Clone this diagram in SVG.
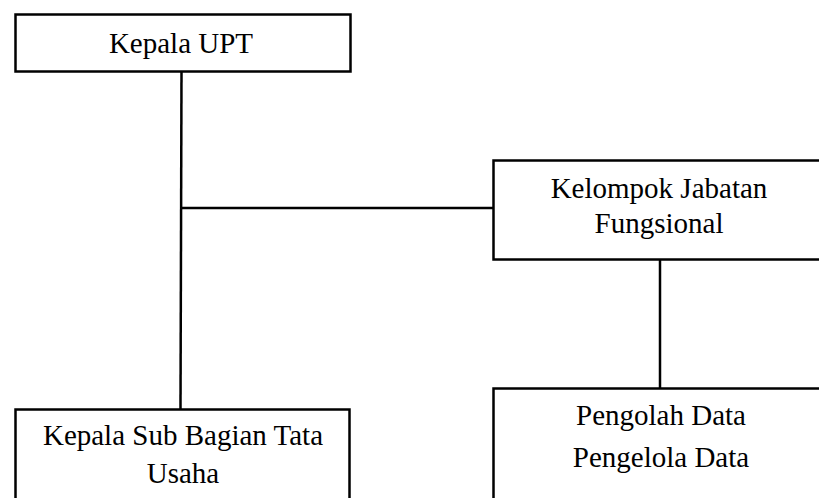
<svg xmlns="http://www.w3.org/2000/svg" width="819" height="498" viewBox="0 0 819 498">
<style>
.box{fill:#fff;stroke:#000;stroke-width:2.5}
.ln{stroke:#000;stroke-width:2.5;fill:none}
text{font-family:"Liberation Serif","Times New Roman",serif;font-size:29px;fill:#000;text-anchor:middle}
</style>
<rect width="819" height="498" fill="#fff"/>
<g id="connectors">
<path class="ln" d="M181.5 72 L180.5 409"/>
<path class="ln" d="M181 208 L493 208"/>
<path class="ln" d="M660 259 L660 388"/>
</g>
<g id="kepala-upt">
<rect class="box" x="15.5" y="14.5" width="335" height="57"/>
<text x="181" y="53">Kepala UPT</text>
</g>
<g id="kelompok-jabatan">
<rect class="box" x="493.5" y="160.5" width="336" height="99"/>
<text x="659" y="198">Kelompok Jabatan</text>
<text x="659" y="233">Fungsional</text>
</g>
<g id="kepala-sub-bagian">
<rect class="box" x="15.5" y="409.5" width="334" height="92"/>
<text x="183" y="445">Kepala Sub Bagian Tata</text>
<text x="183" y="483">Usaha</text>
</g>
<g id="pengolah-data">
<rect class="box" x="493.5" y="388.5" width="336" height="113"/>
<text x="661" y="425">Pengolah Data</text>
<text x="661" y="467">Pengelola Data</text>
</g>
</svg>
